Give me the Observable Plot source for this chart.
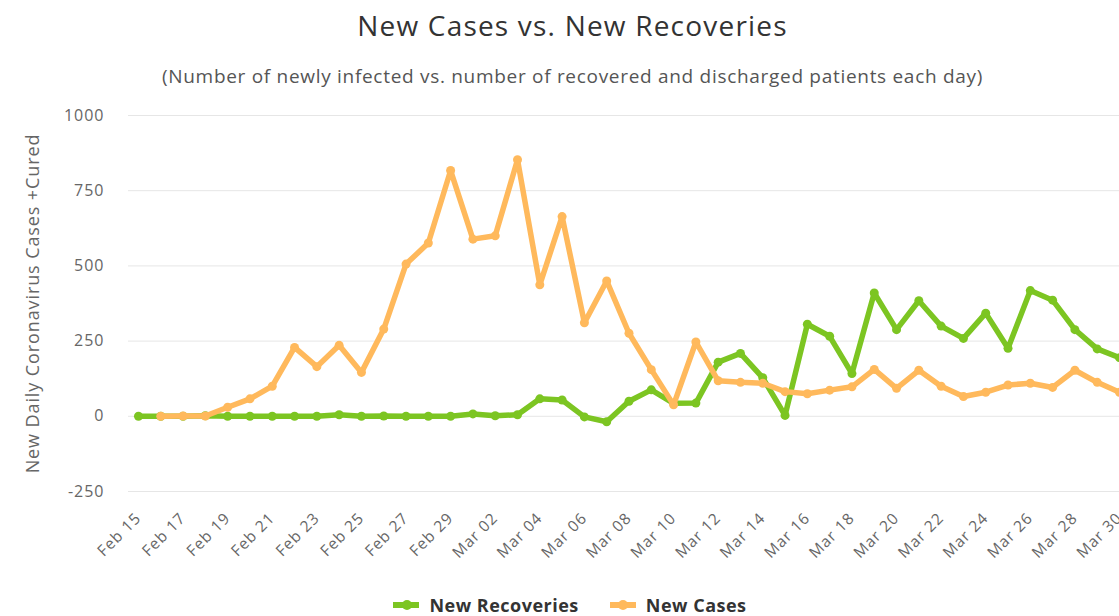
<!DOCTYPE html>
<html>
<head>
<meta charset="utf-8">
<script src="https://cdn.jsdelivr.net/npm/d3@7"></script>
<script src="https://cdn.jsdelivr.net/npm/@observablehq/plot@0.6"></script>
<style>
  html, body { margin: 0; padding: 0; background: #fff; overflow: hidden; }
  body { width: 1119px; height: 616px; position: relative; font-family: "Open Sans", sans-serif; }
  #title { position: absolute; top: 6px; left: 0; width: 1145px; text-align: center; font-size: 28px; letter-spacing: 1.2px; color: #333; }
  #subtitle { position: absolute; top: 63px; left: 0; width: 1145px; text-align: center; font-size: 19px; letter-spacing: 0.7px; color: #555; }
  #chart { position: absolute; top: 100px; left: 0; }
  #legend { position: absolute; top: 593px; left: 0; width: 1140px; display: flex; justify-content: center; gap: 31px; font-size: 18px; letter-spacing: 0.5px; font-weight: bold; color: #333; }
  .item { display: flex; align-items: center; gap: 10px; }
  .sym { position: relative; width: 26px; height: 6px; }
  .sym span { position: absolute; left: 8.5px; top: -2px; width: 10px; height: 10px; border-radius: 50%; }
  .plotwrap text { letter-spacing: 1px; }
</style>
</head>
<body>
<div id="title">New Cases vs. New Recoveries</div>
<div id="subtitle">(Number of newly infected vs. number of recovered and discharged patients each day)</div>
<div id="chart" class="plotwrap"></div>
<div id="legend"></div>
<script>
const dates = ["2020-02-15","2020-02-16","2020-02-17","2020-02-18","2020-02-19","2020-02-20","2020-02-21","2020-02-22","2020-02-23","2020-02-24","2020-02-25","2020-02-26","2020-02-27","2020-02-28","2020-02-29","2020-03-01","2020-03-02","2020-03-03","2020-03-04","2020-03-05","2020-03-06","2020-03-07","2020-03-08","2020-03-09","2020-03-10","2020-03-11","2020-03-12","2020-03-13","2020-03-14","2020-03-15","2020-03-16","2020-03-17","2020-03-18","2020-03-19","2020-03-20","2020-03-21","2020-03-22","2020-03-23","2020-03-24","2020-03-25","2020-03-26","2020-03-27","2020-03-28","2020-03-29","2020-03-30"];
const newRecoveries = [0,0,0,2,0,0,0,0,0,5,0,1,0,0,0,8,2,5,58,54,-2,-18,50,88,43,44,180,209,128,3,306,266,142,410,288,384,300,259,343,226,418,386,288,224,195];
const newCases = [null,0,1,1,30,58,100,229,165,236,146,290,506,576,817,589,600,853,437,664,311,450,276,155,38,247,118,113,110,82,75,87,98,156,93,153,100,66,80,104,110,96,153,113,80];
const seriesNames = ["New Recoveries", "New Cases"];
const seriesColors = ["#7cc522", "#ffb95c"];
const yTicks = [-250, 0, 250, 500, 750, 1000];
const xTickDates = dates.filter((d, i) => i % 2 === 0);
const yLabel = "New Daily Coronavirus Cases +Cured";

const parse = d3.utcParse("%Y-%m-%d");
const rows = [];
dates.forEach((d, i) => {
  rows.push({date: parse(d), series: seriesNames[0], value: newRecoveries[i]});
  if (newCases[i] != null) rows.push({date: parse(d), series: seriesNames[1], value: newCases[i]});
});
const recRows = rows.filter(r => r.series === seriesNames[0]);
const caseRows = rows.filter(r => r.series === seriesNames[1]);

const chart = Plot.plot({
  width: 1119,
  height: 480,
  marginLeft: 128,
  marginRight: 0,
  marginTop: 15,
  marginBottom: 89,
  style: {fontFamily: "Open Sans, sans-serif", fontSize: "16px", color: "#666", background: "transparent", overflow: "visible"},
  x: {type: "utc", domain: [new Date(Date.UTC(2020,1,14,13,15)), parse("2020-03-30")]},
  y: {domain: [-250, 1000]},
  color: {domain: seriesNames, range: seriesColors},
  marks: [
    Plot.gridY(yTicks, {stroke: "#e6e6e6", strokeOpacity: 1, strokeWidth: 1}),
    Plot.axisY(yTicks, {tickSize: 0, tickPadding: 24, fontSize: 16, fill: "#666", tickFormat: d => String(d),
      label: yLabel, labelAnchor: "center", labelArrow: "none", labelOffset: 102}),
    Plot.axisX(xTickDates.map(parse), {tickSize: 0, tickPadding: 24, tickRotate: -45,
      tickFormat: d3.utcFormat("%b %d"), fontSize: 15.5, fill: "#666", label: null}),
    Plot.line(recRows, {x: "date", y: "value", stroke: "series", strokeWidth: 5.5, curve: "linear"}),
    Plot.dot(recRows, {x: "date", y: "value", fill: "series", r: 4.5}),
    Plot.line(caseRows, {x: "date", y: "value", stroke: "series", strokeWidth: 5.5, curve: "linear"}),
    Plot.dot(caseRows, {x: "date", y: "value", fill: "series", r: 4.5})
  ]
});
document.getElementById("chart").appendChild(chart);
// enlarge the y-axis title to match the reference
chart.querySelectorAll("text").forEach(t => {
  if (t.textContent === yLabel) { t.style.fontSize = "18px"; t.style.letterSpacing = "0.9px"; }
});

const legend = document.getElementById("legend");
seriesNames.forEach((name, i) => {
  const item = document.createElement("div");
  item.className = "item";
  item.innerHTML = `<div class="sym" style="background:${seriesColors[i]}"><span style="background:${seriesColors[i]}"></span></div><div>${name}</div>`;
  legend.appendChild(item);
});
</script>
</body>
</html>
